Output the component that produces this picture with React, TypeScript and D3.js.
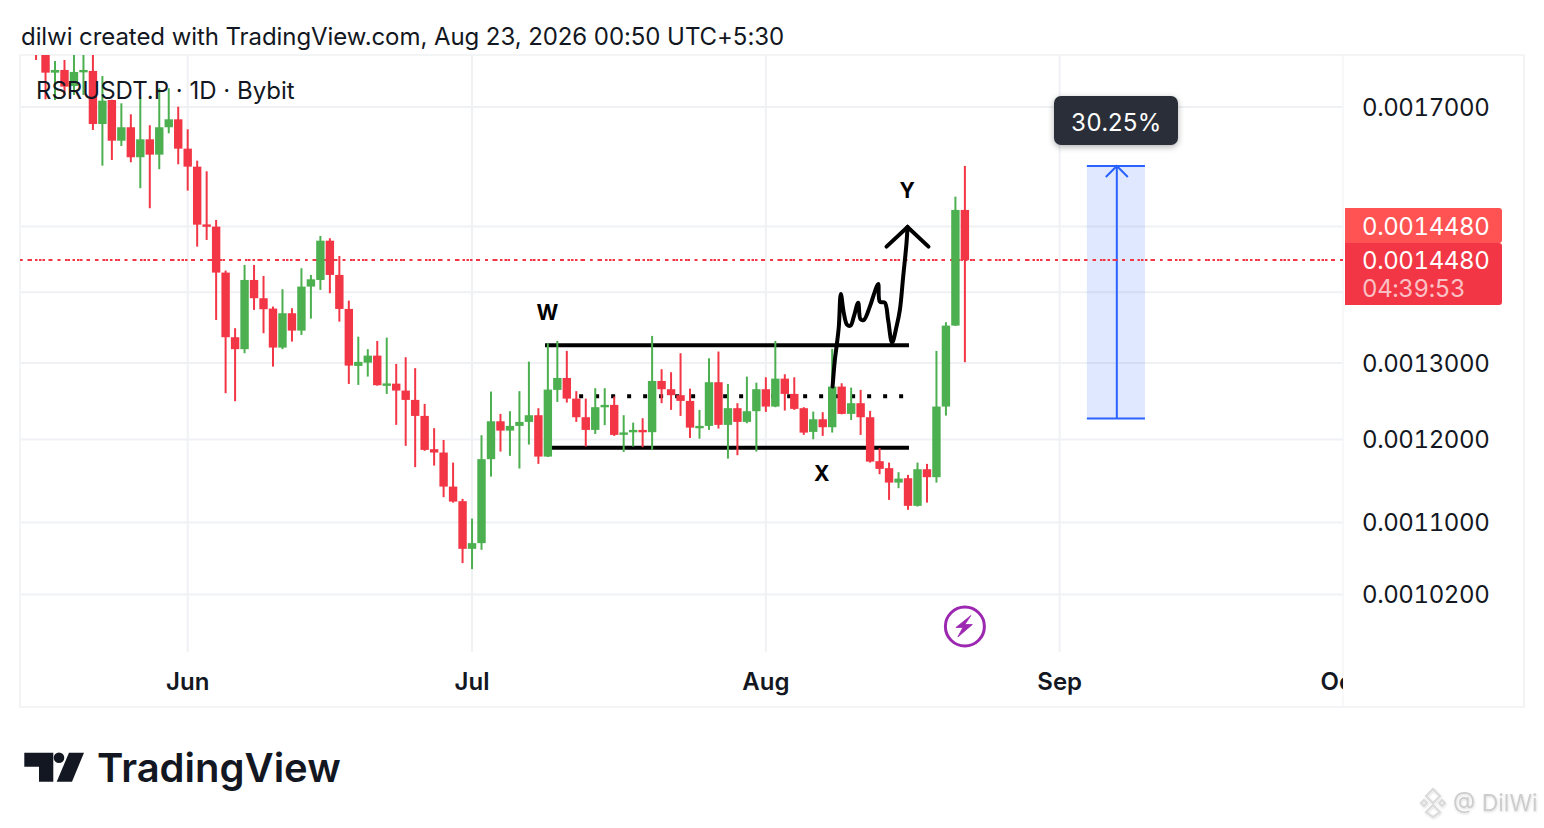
import React, { useEffect } from 'react';
import * as d3 from 'd3';

// prices are stored in units of 1e-7 (0.0017000 -> 17000)
const priceUnit = 1e-7;
const firstDay = -16; // days since Jun 1 of the first candle

const opens = [
  18300, 18300, 17623, 17673, 17379, 17636, 17655, 16700, 17125, 16410,
  16643, 16128, 16434, 16172, 16643, 16782, 16274, 15970, 15032, 14997,
  14292, 13356, 13190, 14182, 13913, 13763, 13212, 13696, 13449, 14084,
  14182, 14778, 14257, 13758, 12961, 13005, 13101, 12712, 12722, 12630,
  12507, 12299, 11878, 11836, 11421, 11248, 10700, 10764, 11754, 12230,
  12111, 12171, 12222, 12308, 11786, 12639, 12798, 12524, 12282, 12120,
  12412, 12442, 12069, 12101, 12120, 12091, 12758, 12648, 12569, 12494,
  12152, 12171, 12741, 12184, 12399, 12222, 12360, 12648, 12420, 12789,
  12586, 12399, 12095, 12256, 12154, 12683, 12325, 12464, 12282, 11729,
  11644, 11469, 11522, 11193, 11631, 11534, 12420, 13520, 15262,
];
const highs = [
  18500, 18400, 17840, 17858, 18100, 18100, 18100, 17562, 17130, 17066,
  16871, 17185, 16678, 17337, 17337, 17006, 16608, 16070, 15893, 15102,
  14322, 13483, 14407, 14407, 14242, 13792, 14045, 13768, 14357, 14257,
  14852, 14816, 14543, 13878, 13364, 13190, 13304, 13350, 12988, 13079,
  12930, 12455, 12142, 11993, 11712, 11275, 11044, 12053, 12617, 12325,
  12360, 12622, 13019, 12399, 13272, 13304, 13166, 12622, 12524, 12661,
  12661, 12551, 12308, 12213, 12269, 13374, 12916, 12875, 13134, 12656,
  12377, 13065, 13157, 12718, 12464, 12816, 12735, 12807, 13304, 12848,
  12807, 12412, 12355, 12347, 13194, 12727, 12669, 12639, 12364, 11890,
  11712, 11595, 11562, 11712, 11696, 13166, 13568, 15476, 15982,
];
const lows = [
  17858, 17138, 17125, 17216, 17216, 17216, 16596, 15987, 16082, 16320,
  16044, 15613, 15289, 15927, 16538, 16010, 15574, 14686, 14789, 13600,
  12595, 12490, 13134, 13744, 13412, 12951, 13190, 13295, 13388, 13619,
  14035, 13986, 13576, 12718, 12705, 12816, 12695, 12586, 12184, 11919,
  11656, 11857, 11675, 11295, 11231, 10541, 10475, 10689, 11541, 11848,
  11795, 11639, 11935, 11696, 11780, 12481, 12472, 12222, 11910, 12069,
  12180, 12044, 11844, 11910, 11902, 11869, 12464, 12377, 12299, 12018,
  12009, 12120, 12137, 11761, 11803, 12205, 11848, 12351, 12412, 12368,
  12377, 12057, 12002, 12044, 12086, 12320, 12247, 12057, 11712, 11570,
  11263, 11402, 11146, 11185, 11231, 11469, 12303, 13515, 13011,
];
const closes = [
  18200, 17623, 17673, 17366, 17636, 17673, 16700, 17113, 16410, 16643,
  16128, 16434, 16172, 16643, 16782, 16274, 15970, 15028, 15016, 14292,
  13356, 13190, 14182, 13913, 13754, 13212, 13696, 13449, 14084, 14192,
  14778, 14257, 13758, 12965, 13015, 13101, 12701, 12725, 12630, 12507,
  12299, 11869, 11836, 11421, 11243, 10700, 10764, 11754, 12230, 12111,
  12171, 12222, 12308, 11786, 12643, 12798, 12524, 12282, 12120, 12412,
  12442, 12057, 12088, 12120, 12101, 12758, 12648, 12569, 12494, 12149,
  12171, 12741, 12184, 12399, 12222, 12360, 12648, 12420, 12789, 12586,
  12390, 12086, 12256, 12154, 12683, 12325, 12464, 12282, 11724, 11635,
  11469, 11517, 11193, 11631, 11534, 12420, 13520, 15262, 14480,
];

const labelledTicks = [17000, 13000, 12000, 11000, 10200];
const hiddenTicks = [15000, 14000];
const monthDays = [0, 30, 61, 92];
const monthLabels = ['Jun', 'Jul', 'Aug', 'Sep', 'Oct'];
const lastPrice = 14480;

// hand drawn annotations, [day, price]
const rangeTop = 13243;
const rangeMid = 12555;
const rangeBottom = 11896;
const brushDays = [68.04, 68.28, 68.46, 68.7, 68.91, 69.23, 69.58, 69.94, 70.28, 70.74, 70.99, 71.34, 71.97, 72.5, 72.85, 73.03, 73.55, 73.9, 74.32, 74.79, 75.14, 75.49, 75.84, 75.95];
const brushPrices = [12683, 13042, 13226, 13506, 13976, 13696, 13530, 13520, 13647, 13849, 13610, 13600, 13791, 14010, 14123, 13863, 13849, 13600, 13281, 13506, 13744, 14232, 14738, 14992];
const arrowDays = [73.73, 75.95, 78.16];
const arrowPrices = [14686, 14992, 14686];
const measureDays = [94.87, 101.0];
const measureMidDay = 98.03;
const measurePrices = [15982, 12266];

const GREEN = '#4CAF50';
const RED = '#F23645';
const GRID = '#F0F1F4';
const INK = '#131722';
const FONT = 'Inter, "Noto Sans", sans-serif';
const tnum = { fontVariantNumeric: 'tabular-nums', letterSpacing: -0.4 };

export default function App() {
  useEffect(() => {
    document.body.style.margin = '0';
    document.body.style.background = '#fff';
  }, []);

  const x = d3.scaleLinear().domain([0, 122]).range([187.7, 1344]);
  const y = d3.scaleLog().domain([17000, 10200]).range([107, 594.5]);

  const candles = opens.map((o, i) => ({
    day: firstDay + i,
    o,
    h: highs[i],
    l: lows[i],
    c: closes[i],
  }));

  const brushPts = brushDays.map((d, i) => [d, brushPrices[i]] as [number, number]);
  const arrowPts = arrowDays.map((d, i) => [d, arrowPrices[i]] as [number, number]);
  const line = d3.line<[number, number]>().x(d => x(d[0])).y(d => y(d[1]));
  const brushLine = d3.line<[number, number]>().x(d => x(d[0])).y(d => y(d[1])).curve(d3.curveCatmullRom);

  const fmt = (p: number) => (p * priceUnit).toFixed(7);
  const paneL = 20;
  const paneR = 1343;
  const axisX = 1362;
  const mx0 = x(measureDays[0]);
  const mx1 = x(measureDays[1]);
  const mxm = x(measureMidDay);
  const myTop = y(measurePrices[0]);
  const myBot = y(measurePrices[1]);
  const lastY = y(lastPrice);

  return (
    <svg width={1544} height={828} style={{ position: 'absolute', left: 0, top: 0, display: 'block' }} fontFamily={FONT}>
      <defs>
        <clipPath id="pane"><rect x={paneL} y={55} width={paneR - paneL} height={597} /></clipPath>
        <clipPath id="timeAxis"><rect x={paneL} y={652} width={paneR - paneL} height={55} /></clipPath>
        <filter id="tipShadow" x="-20%" y="-30%" width="140%" height="170%">
          <feDropShadow dx="0" dy="2" stdDeviation="3" floodColor="#000" floodOpacity="0.3" />
        </filter>
        <filter id="markShadow" x="-10%" y="-30%" width="120%" height="160%">
          <feDropShadow dx="0.5" dy="1" stdDeviation="0.8" floodColor="#000" floodOpacity="0.15" />
        </filter>
      </defs>

      <text x={21} y={44.5} fontSize={24} fill={INK} letterSpacing={-0.07}>dilwi created with TradingView.com, Aug 23, 2026 00:50 UTC+5:30</text>

      {/* frame */}
      <rect x={20} y={55} width={1504} height={652} fill="none" stroke={GRID} strokeWidth={1.5} />
      <line x1={paneR} x2={paneR} y1={55} y2={707} stroke={GRID} strokeWidth={1} />

      {/* grid */}
      {[...labelledTicks, ...hiddenTicks].map(t => (
        <line key={t} x1={paneL} x2={paneR} y1={y(t)} y2={y(t)} stroke={GRID} strokeWidth={2} />
      ))}
      {monthDays.map(d => (
        <line key={d} x1={x(d)} x2={x(d)} y1={55} y2={652} stroke={GRID} strokeWidth={2} />
      ))}

      {/* measure tool */}
      <rect x={mx0} y={myTop} width={mx1 - mx0} height={myBot - myTop} fill="#2962FF" fillOpacity={0.15} />
      <line x1={mx0} x2={mx1} y1={myTop} y2={myTop} stroke="#2962FF" strokeWidth={2} />
      <line x1={mx0} x2={mx1} y1={myBot} y2={myBot} stroke="#2962FF" strokeWidth={2} />
      <line x1={mxm} x2={mxm} y1={myTop} y2={myBot} stroke="#2962FF" strokeWidth={2} />
      <path d={`M${mxm - 11},${myTop + 11}L${mxm},${myTop}L${mxm + 11},${myTop + 11}`} fill="none" stroke="#2962FF" strokeWidth={2} />

      {/* last price line */}
      <line x1={paneL} x2={paneR} y1={lastY} y2={lastY} stroke={RED} strokeWidth={2} strokeDasharray="2.5 5" />
      <line x1={paneL} x2={paneR} y1={lastY} y2={lastY} stroke={RED} strokeWidth={2} strokeDasharray="2.5 7" />

      <g clipPath="url(#pane)">
        {/* range lines sit behind the candles */}
        <line x1={x(37.7)} x2={x(76.1)} y1={y(rangeTop)} y2={y(rangeTop)} stroke="#000" strokeWidth={4} />
        <line x1={x(38.3)} x2={x(76.1)} y1={y(rangeBottom)} y2={y(rangeBottom)} stroke="#000" strokeWidth={4} />
        <line x1={x(41.3)} x2={x(75.7)} y1={y(rangeMid)} y2={y(rangeMid)} stroke="#000" strokeWidth={4} strokeDasharray="4 12" />

        {candles.map(k => {
          const col = k.c >= k.o ? GREEN : RED;
          const top = y(Math.max(k.o, k.c));
          const bot = y(Math.min(k.o, k.c));
          const cx = x(k.day);
          return (
            <g key={k.day}>
              <line x1={cx} x2={cx} y1={y(k.h)} y2={y(k.l)} stroke={col} strokeWidth={2} />
              <rect x={cx - 4.2} width={8.4} y={top} height={Math.max(bot - top, 2.4)} fill={col} />
            </g>
          );
        })}

        <path d={brushLine(brushPts) ?? ''} fill="none" stroke="#000" strokeWidth={4} strokeLinecap="round" strokeLinejoin="round" />
        <path d={line(arrowPts) ?? ''} fill="none" stroke="#000" strokeWidth={4} strokeLinecap="round" strokeLinejoin="miter" />

        <text x={x(37.95)} y={y(13700)} fontSize={21} fontWeight={700} fill="#000" textAnchor="middle" dominantBaseline="central">W</text>
        <text x={x(66.9)} y={y(11580)} fontSize={21} fontWeight={700} fill="#000" textAnchor="middle" dominantBaseline="central">X</text>
        <text x={x(75.9)} y={y(15578)} fontSize={21} fontWeight={700} fill="#000" textAnchor="middle" dominantBaseline="central">Y</text>
      </g>

      <text x={36} y={98.5} fontSize={24} fill={INK}>RSRUSDT.P · 1D · Bybit</text>

      {/* measure label */}
      <rect x={1054} y={96} width={124} height={49} rx={7} fill="#2A2E39" filter="url(#tipShadow)" />
      <text x={1116} y={130.5} fontSize={24} fill="#fff" textAnchor="middle" style={tnum}>30.25%</text>

      {/* price axis */}
      {labelledTicks.map(t => (
        <text key={t} x={axisX} y={y(t) + 8.7} fontSize={24} fill={INK} style={tnum}>{fmt(t)}</text>
      ))}
      <path d="M1345,208 H1499 a3,3 0 0 1 3,3 V240 a3,3 0 0 1 -3,3 H1345 Z" fill="#FF5252" />
      <text x={axisX} y={234.7} fontSize={24} fill="#fff" style={tnum}>{fmt(lastPrice)}</text>
      <path d="M1345,243 H1499 a3,3 0 0 1 3,3 V302 a3,3 0 0 1 -3,3 H1345 Z" fill={RED} />
      <text x={axisX} y={lastY + 8.7} fontSize={24} fill="#fff" style={tnum}>{fmt(lastPrice)}</text>
      <text x={axisX} y={296.7} fontSize={24} fill="#fff" fillOpacity={0.7} style={tnum}>04:39:53</text>

      {/* time axis */}
      <g clipPath="url(#timeAxis)">
        {[...monthDays, 122].map((d, i) => (
          <text key={d} x={x(d) - (d === 122 ? 3 : 0)} y={690} fontSize={24} fontWeight={600} fill={INK} textAnchor="middle">{monthLabels[i]}</text>
        ))}
      </g>

      {/* event marker */}
      <g transform={`translate(${x(82)},626.5)`}>
        <circle r={19.5} fill="#fff" stroke="#9C27B0" strokeWidth={3} />
        <path d="M6,-11 L-9,1 L-2,1 L-7,10.5 L7.5,-2 L0,-2 Z" fill="#9C27B0" stroke="#9C27B0" strokeWidth={0.8} strokeLinejoin="round" />
      </g>

      {/* TradingView logo */}
      <g fill={INK}>
        <path d="M24.3,752.7H53.3V781.7H39V766.7H24.3Z" />
        <circle cx={59} cy={757.7} r={5.3} />
        <path d="M84,752.7L72,781.7H56.7L69,752.7Z" />
      </g>
      <text x={97} y={782} fontSize={40} fontWeight={600} fill={INK} letterSpacing={0}>TradingView</text>

      {/* watermark */}
      <g filter="url(#markShadow)" fill="none" stroke="#dadada" strokeWidth={2}>
        <path d="M1433,789 L1440,796 L1433,803 L1426,796 Z" />
        <path d="M1433,805 L1440,812 L1433,817 L1426,812 Z" />
        <path d="M1421,803 L1424,800 L1427,803 L1424,806 Z" />
        <path d="M1439,803 L1442,800 L1445,803 L1442,806 Z" />
      </g>
      <text x={1453} y={811} fontSize={23} fill="#cdcdcd" filter="url(#markShadow)">@ DilWi</text>
    </svg>
  );
}
